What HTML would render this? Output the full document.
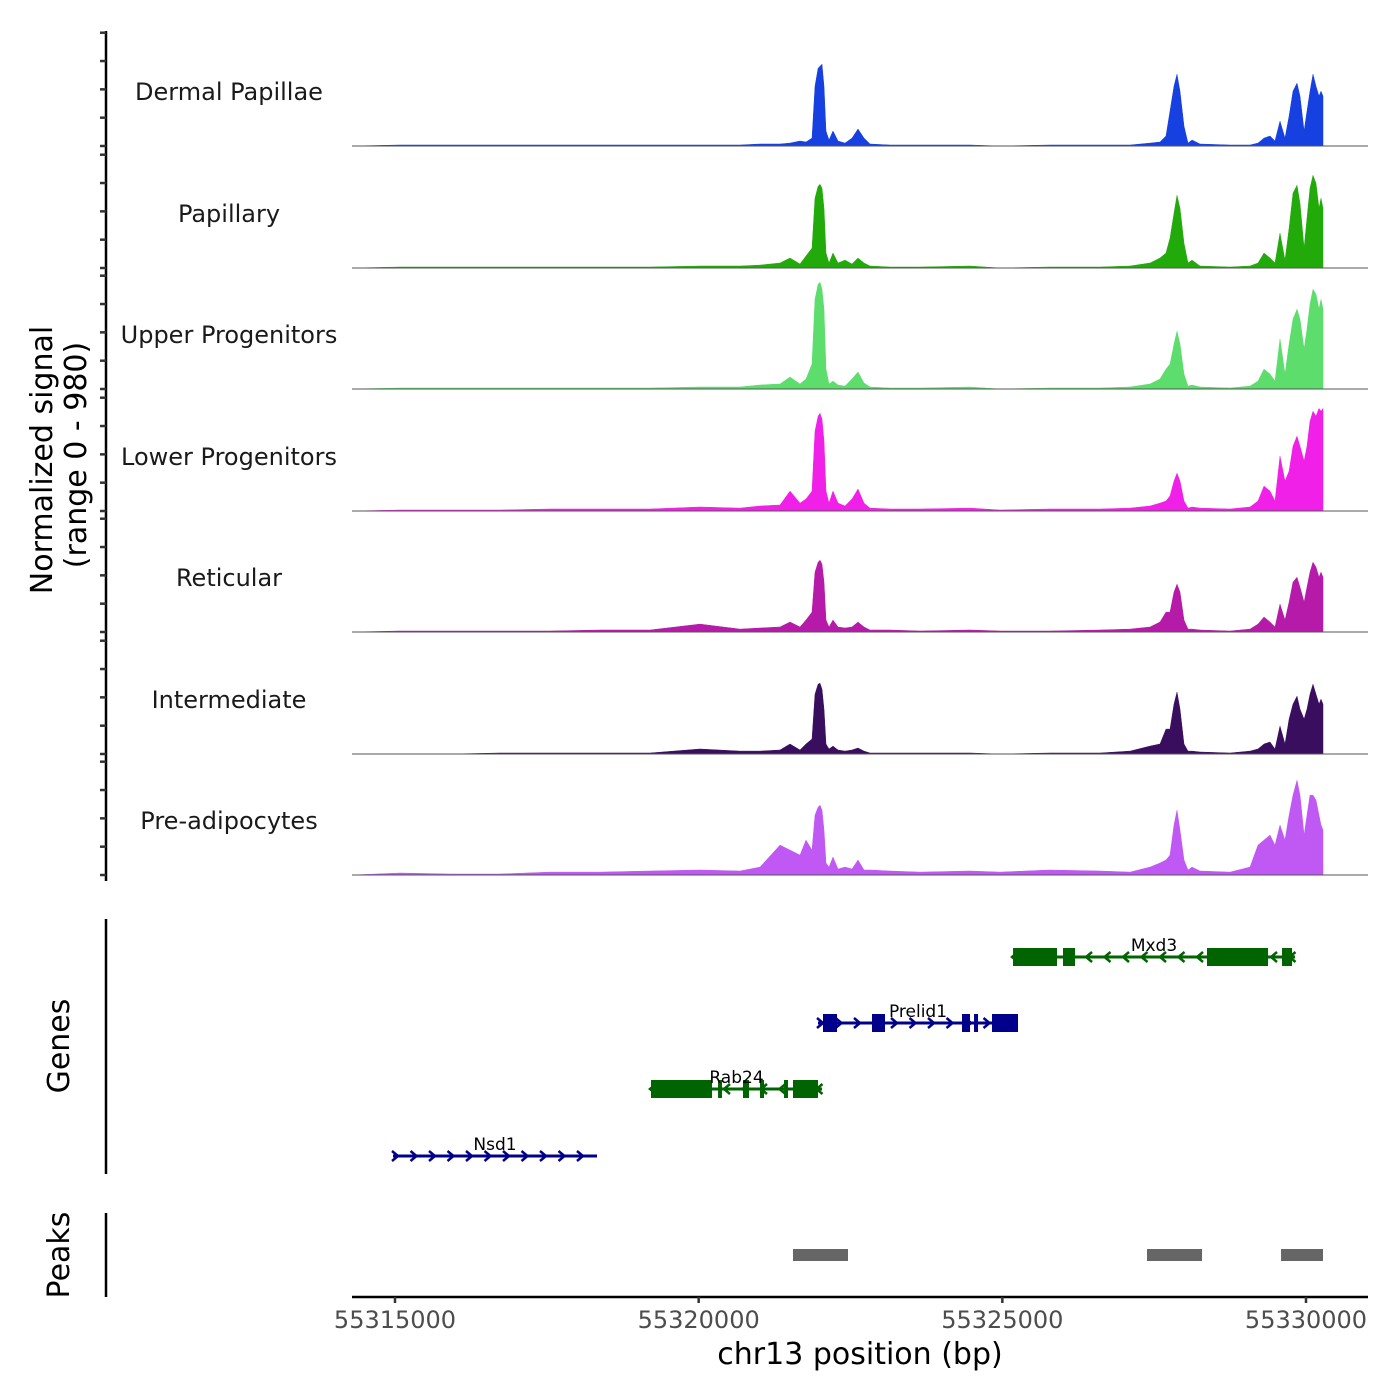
<!DOCTYPE html>
<html><head><meta charset="utf-8"><style>
html,body{margin:0;padding:0;background:#fff;}
svg{display:block;font-family:"DejaVu Sans","Liberation Sans",sans-serif;}
</style></head><body>
<svg id="chart" width="1400" height="1400" viewBox="0 0 1400 1400" xmlns="http://www.w3.org/2000/svg">
<g id="tracks"></g>
<g id="yaxis"></g>
<g id="genes"></g>
<g id="peaks"></g>
<g id="xaxis"></g>
<text transform="translate(52,460) rotate(-90)" text-anchor="middle" font-size="30">Normalized signal</text>
<text transform="translate(86,455) rotate(-90)" text-anchor="middle" font-size="30">(range 0 - 980)</text>
<text transform="translate(69,1046) rotate(-90)" text-anchor="middle" font-size="30">Genes</text>
<text transform="translate(69,1255) rotate(-90)" text-anchor="middle" font-size="30">Peaks</text>
<text x="860" y="1364" text-anchor="middle" font-size="30">chr13 position (bp)</text>
</svg>
<script>
const positions=[55314292,55315082,55315906,55316729,55317552,55318376,55319199,55320022,55320681,55321010,55321339,55321504,55321669,55321767,55321866,55321916,55321966,55321998,55322031,55322064,55322097,55322146,55322212,55322294,55322410,55322525,55322624,55322723,55322821,55323151,55323645,55324468,55324962,55325785,55326609,55327103,55327432,55327596,55327695,55327761,55327827,55327876,55327926,55327992,55328057,55328123,55328255,55328749,55329078,55329210,55329309,55329408,55329490,55329572,55329655,55329721,55329786,55329852,55329902,55329968,55330017,55330066,55330116,55330165,55330214,55330247,55330280];
const trackNames=["Dermal Papillae","Papillary","Upper Progenitors","Lower Progenitors","Reticular","Intermediate","Pre-adipocytes"];
const trackColors=["#1640e0","#22aa0a","#5cdd6c","#f020e8","#b51aa8","#3a0e5e","#c058f4"];
const sigDermal=[0,9,9,9,9,9,9,9,9,18,18,26,44,35,70,528,686,704,722,528,132,53,132,44,26,70,150,70,18,9,9,9,0,9,9,9,26,35,88,308,528,634,484,176,26,53,18,9,9,26,70,88,44,220,70,264,484,554,440,132,308,484,634,528,440,484,440];
const sigPapillary=[0,9,9,9,9,9,9,18,18,26,44,88,35,106,176,616,722,739,704,528,132,44,132,44,70,35,88,44,18,9,9,18,0,9,9,18,44,88,132,264,484,642,528,220,44,70,18,9,18,44,132,88,44,308,70,352,660,730,572,176,440,704,818,748,528,616,528];
const sigUpper=[0,9,9,9,9,9,9,18,18,35,44,106,44,88,220,792,924,942,880,704,176,44,70,35,26,88,150,53,18,9,9,18,0,9,9,18,44,88,176,220,396,510,396,132,26,35,18,9,26,70,176,132,70,440,132,396,616,704,616,352,528,748,880,836,704,792,704];
const sigLower=[0,9,9,9,18,18,18,35,26,44,53,176,70,106,176,704,836,862,810,616,176,70,176,70,44,106,194,70,26,18,18,26,9,18,18,26,44,70,88,132,264,334,264,88,26,35,26,18,35,88,220,176,88,484,264,352,572,660,572,440,572,792,880,836,906,880,906];
const sigReticular=[0,9,9,9,9,18,18,70,26,35,44,88,44,106,176,528,616,634,598,440,106,44,106,44,35,44,88,44,18,18,9,18,9,9,18,26,44,88,176,176,352,422,352,106,26,26,18,9,26,70,132,88,44,246,106,264,440,484,396,264,396,528,616,572,484,528,484];
const sigIntermediate=[0,0,0,9,9,9,9,44,26,26,35,88,35,88,132,528,616,625,572,396,88,44,70,35,26,35,53,26,9,9,9,9,0,9,9,26,70,88,220,220,440,546,396,88,26,26,18,9,26,44,88,106,44,246,88,308,440,510,396,308,396,528,616,528,440,484,440];
const sigPreadip=[0,18,9,9,26,26,35,44,35,70,264,220,176,308,220,528,598,616,572,396,106,70,158,53,70,53,132,44,44,35,26,35,26,44,35,26,70,106,132,176,440,572,396,132,44,70,35,26,70,264,308,352,264,440,308,528,704,836,704,352,528,704,704,660,528,440,396];
const signals=[sigDermal,sigPapillary,sigUpper,sigLower,sigReticular,sigIntermediate,sigPreadip];
const yTicks=[0,250,500,750,1000];
const xTicks=[55315000,55320000,55325000,55330000];
const geneNames=["Mxd3","Prelid1","Rab24","Nsd1"];
const geneStrand=[-1,1,-1,1];
const geneStart=[55325176,55321965,55319215,55314967];
const geneEnd=[55329819,55325258,55322031,55318326];
const geneExons=[[[55325176,55325900],[55325999,55326197],[55328370,55329375],[55329605,55329770]],[[55322047,55322278],[55322854,55323068],[55324336,55324468],[55324534,55324600],[55324830,55325258]],[[55319215,55320220],[55320319,55320384],[55320730,55320829],[55321010,55321076],[55321405,55321471],[55321553,55321965]],[]];
const peakStart=[55321553,55327382,55329589];
const peakEnd=[55322459,55328288,55330280];

const NS="http://www.w3.org/2000/svg";
function mk(tag,attrs,parent){const e=document.createElementNS(NS,tag);for(const k in attrs)e.setAttribute(k,attrs[k]);parent.appendChild(e);return e;}
const X=bp=>395+(bp-55315000)*911/15000;
const baselines=[146,268,389,511,632,754,875];
const Y=(v,t)=>baselines[t]-v*0.1133;

const gT=document.getElementById('tracks');
signals.forEach((s,t)=>{
  let d=`M${X(positions[0])},${baselines[t]}`;
  s.forEach((v,i)=>{d+=` L${X(positions[i]).toFixed(1)},${Y(v,t).toFixed(1)}`;});
  d+=` L${X(positions[positions.length-1]).toFixed(1)},${baselines[t]} Z`;
  const p=mk('path',{d:d,fill:trackColors[t],stroke:trackColors[t],'stroke-width':0.5},gT);
  
  
  const b=mk('line',{x1:352,x2:1368,y1:baselines[t],y2:baselines[t],stroke:'#555','stroke-width':1},gT);
  
  
  const lb=mk('text',{x:229,y:baselines[t]-46,'text-anchor':'middle','font-size':24,fill:'#1a1a1a'},gT);
  lb.textContent=trackNames[t];
  
  
});

const gY=document.getElementById('yaxis');
mk('line',{x1:106,x2:106,y1:31,y2:881,stroke:'#000','stroke-width':2.5},gY);
mk('line',{x1:106,x2:106,y1:919,y2:1174,stroke:'#000','stroke-width':2.5},gY);
mk('line',{x1:106,x2:106,y1:1213,y2:1297,stroke:'#000','stroke-width':2.5},gY);
baselines.forEach((b,t)=>{yTicks.forEach(v=>{
  const tk=mk('line',{x1:100,x2:106,y1:Y(v,t),y2:Y(v,t),stroke:'#333','stroke-width':2.5},gY);
  
  
});});

const gG=document.getElementById('genes');
const rowY=[957,1023,1089,1156];
geneNames.forEach((g,i)=>{
  const c=(i===1||i===3)?'#00008b':'#006400';
  const y=rowY[i],x1=X(geneStart[i]),x2=X(geneEnd[i]);
  const ln=mk('line',{x1:x1,x2:x2,y1:y,y2:y,stroke:c,'stroke-width':3},gG);
  
  
  for(let ax=x1+2;ax<=x2;ax+=18.5){
    const s=geneStrand[i];
    mk('polyline',{points:`${ax-3*s},${y-5} ${ax+3*s},${y} ${ax-3*s},${y+5}`,fill:'none',stroke:c,'stroke-width':2.5},gG);
  }
  geneExons[i].forEach(e=>{
    const r=mk('rect',{x:X(e[0]),y:y-9,width:X(e[1])-X(e[0]),height:18,fill:c},gG);
    
    
  });
  const tx=mk('text',{x:(x1+x2)/2,y:y-6,'text-anchor':'middle','font-size':17,fill:'#000'},gG);
  tx.textContent=g;
  
  
});

const gP=document.getElementById('peaks');
peakStart.forEach((s,i)=>{
  const r=mk('rect',{x:X(s),y:1249,width:X(peakEnd[i])-X(s),height:12,fill:'#666'},gP);
  
  
});

const gX=document.getElementById('xaxis');
mk('line',{x1:352,x2:1368,y1:1297,y2:1297,stroke:'#000','stroke-width':2.5},gX);
xTicks.forEach(v=>{
  mk('line',{x1:X(v),x2:X(v),y1:1297,y2:1303,stroke:'#333','stroke-width':2.5},gX);
  const t=mk('text',{x:X(v),y:1328,'text-anchor':'middle','font-size':24,fill:'#4d4d4d'},gX);
  t.textContent=v;
  
  
});
</script>
</body></html>
